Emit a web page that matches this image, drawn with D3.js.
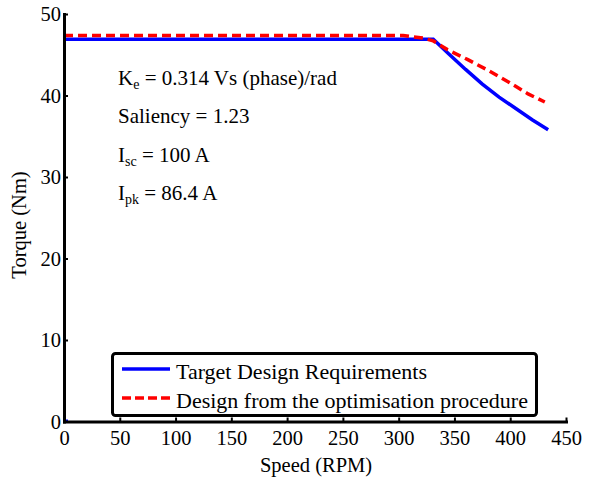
<!DOCTYPE html>
<html>
<head>
<meta charset="utf-8">
<script src="https://cdn.jsdelivr.net/npm/d3@7"></script>
<style>
  body { margin: 0; background: #fff; }
  svg { display: block; font-family: "Liberation Serif", "Times New Roman", serif; }
</style>
</head>
<body>
<div id="chart"></div>
<script>
// values
const targetSpeed  = [0, 331, 345, 360, 375, 390, 405, 420, 434];
const targetTorque = [46.9, 46.9, 45.1, 43.2, 41.4, 39.8, 38.4, 37.0, 35.8];

const designSpeed  = [0, 304, 322, 331, 344, 362, 380, 398, 416, 431];
const designTorque = [47.35, 47.35, 47.05, 46.7, 45.6, 44.4, 43.1, 41.7, 40.2, 39.2];

const xTicks = [0, 50, 100, 150, 200, 250, 300, 350, 400, 450];
const yTicks = [0, 10, 20, 30, 40, 50];

const seriesNames = ["Target Design Requirements", "Design from the optimisation procedure"];

document.addEventListener("DOMContentLoaded", function(){

  const widthValue = 603;
  const heightValue = 481;

  const svg = d3.select("#chart")
                .append("svg")
                .attr("width", widthValue)
                .attr("height", heightValue);

  const xScale = d3.scaleLinear().domain([0, 450]).range([64, 566]);
  const yScale = d3.scaleLinear().domain([0, 50]).range([421.5, 14]);

  const line = d3.line()
                 .x(d => xScale(d[0]))
                 .y(d => yScale(d[1]));

  const target = targetSpeed.map((s, i) => [s, targetTorque[i]]);
  const design = designSpeed.map((s, i) => [s, designTorque[i]]);

  // curves
  svg.append("path")
      .datum(target)
      .attr("d", line)
      .attr("fill", "none")
      .attr("stroke", "#0000ff")
      .attr("stroke-width", 3.5);

  svg.append("path")
      .datum(design)
      .attr("d", line)
      .attr("fill", "none")
      .attr("stroke", "#ff0000")
      .attr("stroke-width", 3.5)
      .attr("stroke-dasharray", "9,5");

  // small blue mark left at the origin in the original
  svg.append("rect")
      .attr("x", xScale(0))
      .attr("y", yScale(0) - 2)
      .attr("width", 4)
      .attr("height", 3)
      .attr("fill", "#0000ff");

  // axes (ticks point inward)
  const xAxis = svg.append("g")
                   .attr("transform", `translate(0, ${yScale(0)})`)
                   .call(d3.axisBottom(xScale).tickValues(xTicks).tickSizeInner(-4).tickSizeOuter(0));
  const yAxis = svg.append("g")
                   .attr("transform", `translate(${xScale(0)}, 0)`)
                   .call(d3.axisLeft(yScale).tickValues(yTicks).tickSizeInner(-4).tickSizeOuter(0));

  [xAxis, yAxis].forEach(function(ax){
    ax.select(".domain").attr("stroke", "#000").attr("stroke-width", 3).attr("stroke-linecap", "square");
    ax.selectAll(".tick line").attr("stroke", "#000").attr("stroke-width", 2);
    ax.selectAll(".tick text")
      .attr("fill", "#000")
      .style("font-family", "Liberation Serif, serif")
      .style("font-size", "20.5px");
  });
  xAxis.selectAll(".tick text").attr("y", 9).attr("dy", "0.71em");
  yAxis.selectAll(".tick text").attr("x", -3).attr("dy", "0.34em");

  // axis titles
  svg.append("text")
      .attr("x", 316)
      .attr("y", 472)
      .attr("text-anchor", "middle")
      .style("font-size", "20.5px")
      .text("Speed (RPM)");

  svg.append("text")
      .attr("transform", "translate(26, 225) rotate(-90)")
      .attr("text-anchor", "middle")
      .style("font-size", "20.5px")
      .text("Torque (Nm)");

  // annotations
  const notes = [
    { main: "K", sub: "e", rest: " = 0.314 Vs (phase)/rad", y: 85 },
    { main: "Saliency = 1.23", sub: "", rest: "", y: 123 },
    { main: "I", sub: "sc", rest: " = 100 A", y: 161.5 },
    { main: "I", sub: "pk", rest: " = 86.4 A", y: 200 }
  ];
  notes.forEach(function(n){
    const t = svg.append("text")
                 .attr("x", 118)
                 .attr("y", n.y)
                 .style("font-size", "21px");
    t.append("tspan").text(n.main);
    if (n.sub) {
      t.append("tspan").attr("dy", 4).style("font-size", "14px").text(n.sub);
      t.append("tspan").attr("dy", -4).text(n.rest);
    }
  });

  // legend
  const legend = svg.append("g");
  legend.append("rect")
        .attr("x", 112.5)
        .attr("y", 353.5)
        .attr("width", 424)
        .attr("height", 62)
        .attr("rx", 3)
        .attr("fill", "#fff")
        .attr("stroke", "#000")
        .attr("stroke-width", 3);

  const legendY = [369, 398];
  const legendColor = ["#0000ff", "#ff0000"];
  const legendDash = [null, "9,4"];
  seriesNames.forEach(function(name, i){
    legend.append("line")
          .attr("x1", 122).attr("x2", 170)
          .attr("y1", legendY[i]).attr("y2", legendY[i])
          .attr("stroke", legendColor[i])
          .attr("stroke-width", 3.5)
          .attr("stroke-dasharray", legendDash[i]);
    legend.append("text")
          .attr("x", 176)
          .attr("y", legendY[i] + 10)
          .style("font-size", "22px")
          .text(name);
  });
})
</script>
</body>
</html>
